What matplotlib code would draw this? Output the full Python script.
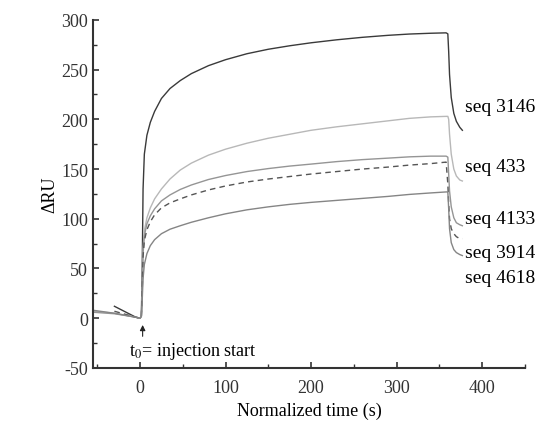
import matplotlib.pyplot as plt
import numpy as np
from matplotlib.ticker import MultipleLocator

plt.rcParams['font.family'] = ['Liberation Serif', 'DejaVu Serif']
plt.rcParams['mathtext.fontset'] = 'stix'
plt.rcParams['axes.unicode_minus'] = False

# normalized time (s), shared by all sensorgrams
t = [-55, -30, -5, 0, 1.5, 2.5, 3.5, 5, 8, 12, 17, 25, 35, 47, 60, 80, 100,
     125, 150, 175, 200, 230, 260, 290, 315, 340, 358, 360, 361, 362, 364,
     367, 370, 374, 377]

nan = np.nan
seq_3146 = [nan, 12, 1, 0, 2, 50, 130, 165, 184, 197, 208, 221, 231, 239, 246,
            254, 260, 266, 270.5, 274, 277, 280, 282.5, 284.5, 285.8, 286.6, 287,
            286, 268, 245, 222, 206, 198, 192, 189]
seq_433 = [7, 5, 1, 0, 2, 30, 70, 88, 101, 111, 120, 130, 140, 149, 156,
           164, 170, 176, 181, 185, 189, 192.5, 195.5, 198.5, 201, 202.5, 203,
           203, 200, 185, 165, 150, 143, 139, 138]
seq_4133 = [6, 4.5, 1, 0, 2, 28, 65, 83, 95, 103, 110, 118, 124, 129.5, 134,
            139.5, 143.5, 147.5, 150.5, 153, 155, 157.5, 159.5, 161, 162.3, 163, 163,
            162, 145, 128, 112, 101, 96, 94, 93]
seq_3914 = [nan, 7, 1, 0, 2, 26, 62, 78, 89, 97, 104, 111, 116, 120, 124,
            129, 133, 137, 140, 142.5, 145, 147.5, 150, 152, 154, 155.5, 157,
            135, 115, 100, 90, 85, 82, 80, 80]
seq_4618 = [8, 5, 1, 0, 2, 18, 40, 54, 65, 73, 79, 85, 89.5, 93, 96.5,
            101, 105, 109, 112, 114.5, 116.5, 118.5, 120.5, 122.5, 124.5, 126, 127,
            127, 110, 90, 76, 69, 66, 64, 63]

labels = ['seq 3146', 'seq 433', 'seq 4133', 'seq 3914', 'seq 4618']
label_y = [213, 153, 100, 66, 41]

fig, ax = plt.subplots(figsize=(5.41, 4.27), dpi=100)
fig.subplots_adjust(left=0.172, right=0.970, bottom=0.136, top=0.951)

ax.plot(t, seq_3146, color='#3a3a3a', lw=1.0)
ax.plot(t, seq_433, color='#b8b8b8', lw=1.0)
ax.plot(t, seq_4133, color='#959595', lw=1.0)
ax.plot(t, seq_3914, color='#555555', lw=1.0, ls=(0, (4, 3)))
ax.plot(t, seq_4618, color='#858585', lw=1.0)

for lab, yy in zip(labels, label_y):
    ax.text(380, yy, lab, fontsize=14, va='center', ha='left', clip_on=False)

ax.annotate('', xy=(3, -4), xytext=(3, -21),
            arrowprops=dict(arrowstyle='-|>', color='#222222', lw=0.8,
                            mutation_scale=8))
ax.text(-13, -32, r't$_0$= injection start', fontsize=13, va='center', ha='left')

ax.set_xlim(-55, 450)
ax.set_ylim(-50, 300)
ax.xaxis.set_major_locator(MultipleLocator(100))
ax.xaxis.set_minor_locator(MultipleLocator(50))
ax.yaxis.set_major_locator(MultipleLocator(50))
ax.yaxis.set_minor_locator(MultipleLocator(25))
ax.tick_params(which='both', direction='in', labelsize=13, colors='#333333')
ax.tick_params(which='major', length=4, width=1.2)
ax.tick_params(which='minor', length=3, width=1.0)
ax.tick_params(axis='x', pad=8)

for s in ['top', 'right']:
    ax.spines[s].set_visible(False)
for s in ['left', 'bottom']:
    ax.spines[s].set_linewidth(1.5)
    ax.spines[s].set_color('#333333')

ax.set_xlabel('Normalized time (s)', fontsize=13, labelpad=4)
ax.set_ylabel('ΔRU', fontsize=13, labelpad=2)

plt.savefig('out.png', dpi=100)
